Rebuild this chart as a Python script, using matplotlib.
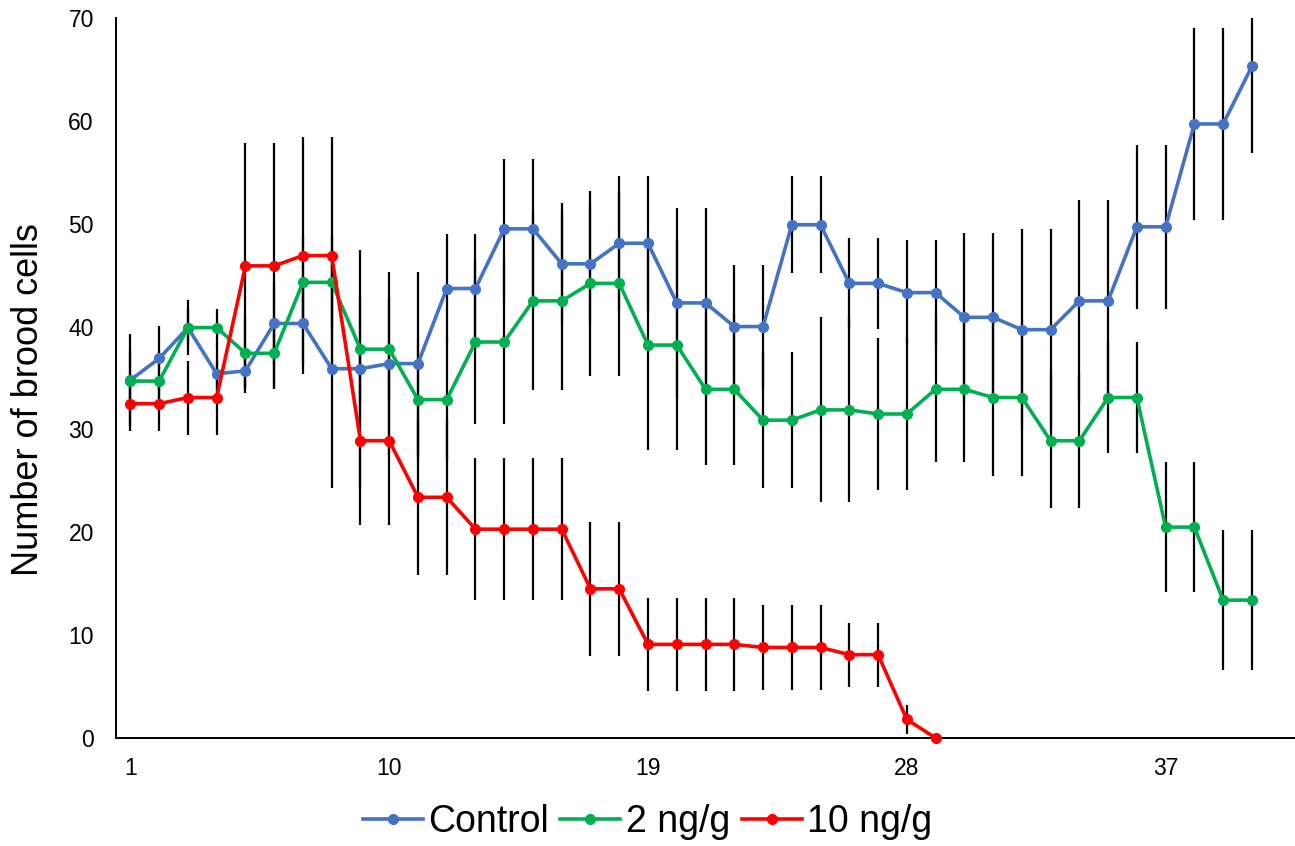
import matplotlib
matplotlib.use('Agg')
import matplotlib.pyplot as plt

plt.rcParams['font.family'] = ['Liberation Sans', 'DejaVu Sans']

# weeks / sampling points
days = list(range(1, 41))

control = [34.8, 36.9, 39.9, 35.4, 35.7, 40.3, 40.3, 35.9, 35.9, 36.4,
           36.4, 43.7, 43.7, 49.5, 49.5, 46.1, 46.1, 48.1, 48.1, 42.3,
           42.3, 40.0, 40.0, 49.9, 49.9, 44.2, 44.2, 43.3, 43.3, 40.9,
           40.9, 39.7, 39.7, 42.5, 42.5, 49.7, 49.7, 59.7, 59.7, 65.3]
control_err = [4.5, 3.2, 2.7, 3.0, 2.2, 4.0, 4.0, 11.6, 11.5, 8.9,
               8.9, 5.3, 5.3, 6.8, 6.8, 5.9, 5.9, 6.5, 6.5, 9.2,
               9.2, 6.0, 6.0, 4.7, 4.7, 4.4, 4.4, 5.1, 5.1, 8.2,
               8.2, 9.8, 9.8, 9.8, 9.8, 8.0, 8.0, 9.3, 9.3, 8.4]

ng2 = [34.7, 34.7, 39.9, 39.9, 37.4, 37.4, 44.3, 44.3, 37.8, 37.8,
       32.9, 32.9, 38.5, 38.5, 42.5, 42.5, 44.2, 44.2, 38.2, 38.2,
       33.9, 33.9, 30.9, 30.9, 31.9, 31.9, 31.5, 31.5, 33.9, 33.9,
       33.1, 33.1, 28.9, 28.9, 33.1, 33.1, 20.5, 20.5, 13.4, 13.4]
ng2_err = [3.0, 3.0, 1.8, 1.8, 3.5, 3.5, 4.5, 4.5, 5.0, 5.0,
           6.0, 6.0, 8.0, 8.0, 8.7, 8.7, 9.0, 9.0, 10.2, 10.2,
           7.4, 7.4, 6.6, 6.6, 9.0, 9.0, 7.4, 7.4, 7.1, 7.1,
           7.6, 7.6, 6.5, 6.5, 5.4, 5.4, 6.3, 6.3, 6.8, 6.8]

ng10 = [32.5, 32.5, 33.1, 33.1, 45.9, 45.9, 46.9, 46.9, 28.9, 28.9,
        23.4, 23.4, 20.3, 20.3, 20.3, 20.3, 14.5, 14.5, 9.1, 9.1,
        9.1, 9.1, 8.8, 8.8, 8.8, 8.1, 8.1, 1.8, 0.0]
ng10_err = [2.7, 2.7, 3.6, 3.6, 11.9, 11.9, 11.5, 11.5, 8.2, 8.2,
            7.6, 7.6, 6.9, 6.9, 6.9, 6.9, 6.5, 6.5, 4.55, 4.55,
            4.55, 4.55, 4.1, 4.1, 4.1, 3.1, 3.1, 1.4, 0.0]

series = [
    ('Control', control, control_err, '#4472C4'),
    ('2 ng/g', ng2, ng2_err, '#00B050'),
    ('10 ng/g', ng10, ng10_err, '#FF0000'),
]

fig = plt.figure(figsize=(12.95, 8.46), dpi=100)
ax = fig.add_axes([0.0896, 0.1277, 0.9104, 0.851])

for name, vals, err, col in series:
    x = days[:len(vals)]
    ax.errorbar(x, vals, yerr=err, fmt='none', ecolor='black',
                elinewidth=1.6, capsize=0, zorder=2)
for name, vals, err, col in series:
    x = days[:len(vals)]
    ax.plot(x, vals, '-o', color=col, lw=2.6, ms=7, label=name,
            clip_on=False, zorder=3)

ax.set_xlim(0.5, 41.5)
ax.set_ylim(0, 70)
ax.set_xticks([1, 10, 19, 28, 37])
ax.set_yticks(range(0, 71, 10))
ax.tick_params(length=0, labelsize=16.5)
ax.tick_params(axis='x', pad=14)
ax.tick_params(axis='y', pad=16)
for s in ['top', 'right']:
    ax.spines[s].set_visible(False)
for s in ['left', 'bottom']:
    ax.spines[s].set_linewidth(1.4)
    ax.spines[s].set_color('black')

ax.set_ylabel('Number of brood cells', fontsize=26)
ax.yaxis.set_label_coords(-0.059, 0.47)

fig.legend(loc='center', bbox_to_anchor=(0.5, 0.028), ncol=3, frameon=False,
           fontsize=27, handlelength=1.6, handletextpad=0.15,
           columnspacing=0.3, borderpad=0)

fig.savefig('out.png', dpi=100)
